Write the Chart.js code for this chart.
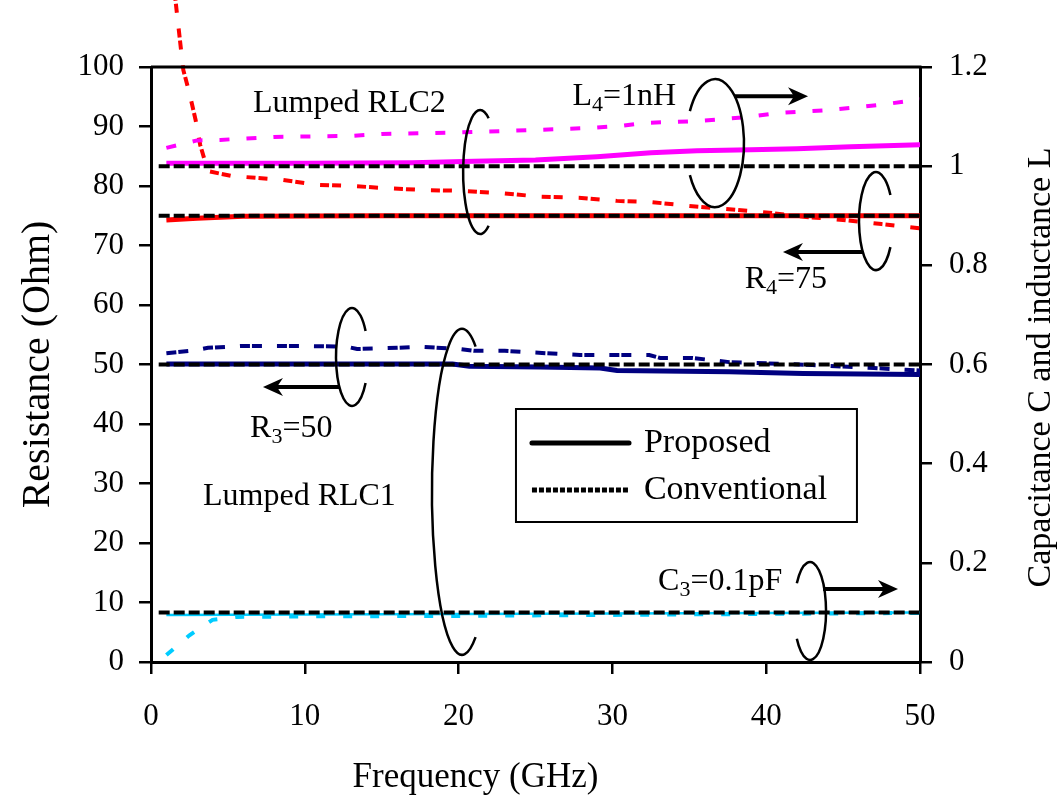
<!DOCTYPE html>
<html>
<head>
<meta charset="utf-8">
<title>Lumped RLC extraction vs frequency</title>
<script src="https://cdn.jsdelivr.net/npm/chart.js@4.4.1/dist/chart.umd.min.js"></script>
<style>
  html, body { margin: 0; padding: 0; background: #fff; }
  #wrap { width: 1062px; height: 799px; }
</style>
</head>
<body>
<div id="wrap"><canvas id="chart" width="1062" height="799"></canvas></div>
<script>
// ---- values ----
// nominal (ideal) element values, drawn as black dashed lines
const nominalFreq = [0.5, 50];
const nominalL4 = [1.0, 1.0];     // nH (right axis)
const nominalR4 = [75, 75];       // Ohm
const nominalR3 = [50, 50];       // Ohm
const nominalC3 = [0.1, 0.1];     // pF (right axis)

// L4 (magenta, right axis)
const l4PropFreq = [1, 10, 17, 21, 25, 29, 32.5, 35.5, 39, 42, 45.5, 50];
const l4PropVal  = [1.006, 1.006, 1.007, 1.010, 1.0125, 1.019, 1.027, 1.031, 1.033, 1.035, 1.039, 1.043];
const l4ConvFreq = [1, 3, 4.5, 8, 13, 15, 20, 25, 28.5, 30.5, 32, 35.5, 38.8, 40.7, 44, 46, 48, 50];
const l4ConvVal  = [1.037, 1.052, 1.053, 1.059, 1.061, 1.065, 1.068, 1.073, 1.077, 1.081, 1.087, 1.091, 1.099, 1.107, 1.113, 1.119, 1.126, 1.135];

// R4 (red, left axis)
const r4PropFreq = [1, 3, 6, 15, 25, 35, 45, 50];
const r4PropVal  = [74.3, 74.6, 74.9, 75.0, 75.0, 75.0, 75.0, 75.0];
const r4ConvFreq = [1, 1.7, 2.1, 2.5, 2.9, 3.2, 3.7, 5.2, 8.6, 10.8, 13.1, 15.5, 17.9, 20.1, 22.8, 25.3, 28, 30.3, 32.5, 35.2, 37.6, 40.2, 42.6, 45, 47.5, 50];
const r4ConvVal  = [125, 108.7, 99.5, 95.6, 91.1, 86.9, 82.5, 81.7, 81.0, 80.2, 80.0, 79.6, 79.3, 79.2, 78.8, 78.2, 78.0, 77.5, 77.3, 76.6, 76.1, 75.5, 74.8, 74.3, 73.6, 72.9];

// R3 (navy, left axis)
const r3PropFreq = [1, 10, 19.6, 20.7, 25.3, 29.2, 30.3, 37.6, 42.4, 50];
const r3PropVal  = [50.1, 50.1, 50.1, 49.7, 49.6, 49.4, 49.0, 48.8, 48.5, 48.3];
const r3ConvFreq = [1, 2.9, 3.7, 5.8, 8, 10, 12.7, 13.4, 16, 17.5, 20.1, 21, 23, 25.7, 27.9, 30.5, 32.4, 33.1, 35.2, 37.6, 40, 43, 47, 50];
const r3ConvVal  = [51.9, 52.4, 52.8, 53.1, 53.1, 53.1, 53.0, 52.6, 52.8, 53.0, 52.6, 52.3, 52.3, 51.9, 51.6, 51.6, 51.6, 51.1, 51.1, 50.4, 50.2, 49.9, 49.4, 49.0];

// C3 (sky blue, right axis)
const c3PropFreq = [1, 10, 20, 30, 40, 50];
const c3PropVal  = [0.095, 0.096, 0.097, 0.098, 0.099, 0.100];
const c3ConvFreq = [1, 2.5, 4, 5.6, 10, 20, 30, 40, 50];
const c3ConvVal  = [0.014, 0.054, 0.085, 0.091, 0.092, 0.093, 0.095, 0.097, 0.099];

const freqTicks = [0, 10, 20, 30, 40, 50];

const FONT = "'Liberation Serif', 'Times New Roman', serif";
Chart.defaults.font.family = FONT;
Chart.defaults.color = '#000';

function pts(xs, ys) {
    return xs.map((x, i) => ({ x: x, y: ys[i] }));
}

function line(label, xs, ys, color, width, dash, axis) {
    return {
        label: label,
        data: pts(xs, ys),
        borderColor: color,
        borderWidth: width,
        borderDash: dash || [],
        pointRadius: 0,
        fill: false,
        tension: 0,
        yAxisID: axis || 'y'
    };
}

const BLACK_DASH = [11, 4];

const datasets = [
    // black nominal lines on top
    line('L4 nominal', nominalFreq, nominalL4, '#000', 4, BLACK_DASH, 'y2'),
    line('R4 nominal', nominalFreq, nominalR4, '#000', 4, BLACK_DASH),
    line('R3 nominal', nominalFreq, nominalR3, '#000', 4, BLACK_DASH),
    line('C3 nominal', nominalFreq, nominalC3, '#000', 4, BLACK_DASH, 'y2'),
    line('L4 proposed', l4PropFreq, l4PropVal, '#ff00ff', 5, null, 'y2'),
    line('L4 conventional', l4ConvFreq, l4ConvVal, '#ff00ff', 4, [10, 17], 'y2'),
    line('R4 proposed', r4PropFreq, r4PropVal, '#ff0000', 5),
    Object.assign(line('R4 conventional', r4ConvFreq, r4ConvVal, '#ff0000', 4, [9, 3, 9, 16]), { clip: false }),
    line('R3 proposed', r3PropFreq, r3PropVal, '#000080', 5),
    line('R3 conventional', r3ConvFreq, r3ConvVal, '#000080', 4, [10, 2, 10, 15]),
    line('C3 proposed', c3PropFreq, c3PropVal, '#00ccff', 2.5, null, 'y2'),
    line('C3 conventional', c3ConvFreq, c3ConvVal, '#00ccff', 4, [9, 18], 'y2')
];

// ---- annotations (data units for positions) ----
const ellipses = [
    { x: 21.4, y: 82.35, rx: 17, ry: 62, open: 'right', gap: Math.PI / 3 },
    { x: 36.67, y: 87.2, rx: 29, ry: 64, open: 'left', gap: Math.PI / 6 },
    { x: 47.14, y: 74.1, rx: 17, ry: 49, open: 'right', gap: 0.56 },
    { x: 13.07, y: 51.26, rx: 16, ry: 49, open: 'right', gap: 0.56 },
    { x: 20.22, y: 28.6, rx: 30, ry: 163, open: 'right', gap: 1.1 },
    { x: 42.85, y: 8.57, rx: 16, ry: 49, open: 'left', gap: 0.6 }
];
const arrows = [
    { x1: 37.97, x2: 42.72, y: 95.1 },
    { x1: 46.23, x2: 41.09, y: 68.9 },
    { x1: 12.29, x2: 7.28, y: 46.2 },
    { x1: 43.7, x2: 48.57, y: 12.27 }
];
const labels = [
    { x: 6.63, y: 92.4, parts: [['Lumped RLC2']] },
    { x: 3.38, y: 26.4, parts: [['Lumped RLC1']] },
    { x: 27.4, y: 93.6, parts: [['L'], ['4', 1], ['=1nH']] },
    { x: 38.6, y: 62.9, parts: [['R'], ['4', 1], ['=75']] },
    { x: 6.44, y: 37.8, parts: [['R'], ['3', 1], ['=50']] },
    { x: 32.97, y: 12.1, parts: [['C'], ['3', 1], ['=0.1pF']] }
];

function drawParts(ctx, x, y, parts) {
    let cx = x;
    parts.forEach(p => {
        const sub = p[1];
        ctx.font = (sub ? '22px ' : '32px ') + FONT;
        ctx.fillText(p[0], cx, sub ? y + 6 : y);
        cx += ctx.measureText(p[0]).width;
    });
}

const decorPlugin = {
    id: 'decor',
    afterDatasetsDraw(chart) {
        const ctx = chart.ctx;
        const xs = chart.scales.x, ys = chart.scales.y;
        const area = chart.chartArea;
        ctx.save();
        ctx.strokeStyle = '#000';
        ctx.fillStyle = '#000';

        // top border of the plot box
        ctx.lineWidth = 3;
        ctx.beginPath();
        ctx.moveTo(area.left, area.top);
        ctx.lineTo(area.right + 1.5, area.top);
        ctx.stroke();

        // open ellipses
        ctx.lineWidth = 2.5;
        ellipses.forEach(e => {
            const cx = xs.getPixelForValue(e.x), cy = ys.getPixelForValue(e.y);
            ctx.beginPath();
            if (e.open === 'right') ctx.ellipse(cx, cy, e.rx, e.ry, 0, e.gap, 2 * Math.PI - e.gap);
            else ctx.ellipse(cx, cy, e.rx, e.ry, 0, Math.PI + e.gap, 3 * Math.PI - e.gap);
            ctx.stroke();
        });

        // arrows
        arrows.forEach(a => {
            const x1 = xs.getPixelForValue(a.x1), x2 = xs.getPixelForValue(a.x2);
            const y = ys.getPixelForValue(a.y);
            const dir = Math.sign(x2 - x1);
            ctx.lineWidth = 4;
            ctx.beginPath();
            ctx.moveTo(x1, y);
            ctx.lineTo(x2 - dir * 10, y);
            ctx.stroke();
            ctx.beginPath();
            ctx.moveTo(x2, y);
            ctx.lineTo(x2 - dir * 20, y - 9);
            ctx.lineTo(x2 - dir * 14, y);
            ctx.lineTo(x2 - dir * 20, y + 9);
            ctx.closePath();
            ctx.fill();
        });

        // labels
        ctx.textAlign = 'left';
        ctx.textBaseline = 'alphabetic';
        labels.forEach(l => {
            drawParts(ctx, xs.getPixelForValue(l.x), ys.getPixelForValue(l.y), l.parts);
        });

        // legend box
        const lx1 = xs.getPixelForValue(23.73), lx2 = xs.getPixelForValue(45.9);
        const ly1 = ys.getPixelForValue(42.52), ly2 = ys.getPixelForValue(23.53);
        ctx.fillStyle = '#fff';
        ctx.fillRect(lx1, ly1, lx2 - lx1, ly2 - ly1);
        ctx.fillStyle = '#000';
        ctx.lineWidth = 2;
        ctx.strokeRect(lx1, ly1, lx2 - lx1, ly2 - ly1);
        const sx1 = xs.getPixelForValue(24.77), sx2 = xs.getPixelForValue(31.08);
        const tx = xs.getPixelForValue(32.05);
        const row1 = ys.getPixelForValue(36.8), row2 = ys.getPixelForValue(28.9);
        ctx.lineWidth = 5;
        ctx.lineCap = 'round';
        ctx.beginPath();
        ctx.moveTo(sx1, row1);
        ctx.lineTo(sx2, row1);
        ctx.stroke();
        ctx.lineCap = 'butt';
        ctx.setLineDash([5, 2]);
        ctx.beginPath();
        ctx.moveTo(sx1, row2);
        ctx.lineTo(sx2, row2);
        ctx.stroke();
        ctx.setLineDash([]);
        ctx.font = '34px ' + FONT;
        ctx.textBaseline = 'middle';
        ctx.fillText('Proposed', tx, row1);
        ctx.fillText('Conventional', tx, row2);

        // x axis title and right axis title
        ctx.textAlign = 'center';
        ctx.font = '35px ' + FONT;
        ctx.textBaseline = 'alphabetic';
        ctx.fillText('Frequency (GHz)', xs.getPixelForValue(21.1), 787);
        ctx.save();
        ctx.translate(1041, (area.top + area.bottom) / 2 + 3);
        ctx.rotate(-Math.PI / 2);
        ctx.font = '34px ' + FONT;
        ctx.textBaseline = 'middle';
        ctx.fillText('Capacitance C and inductance L', 0, 0);
        ctx.restore();

        ctx.restore();
    }
};

const axisStyle = {
    grid: { drawOnChartArea: false, drawTicks: true, tickLength: 12, color: '#000', lineWidth: 2.5 },
    border: { display: true, color: '#000', width: 3 }
};

new Chart(document.getElementById('chart'), {
    type: 'line',
    data: { datasets: datasets },
    options: {
        responsive: false,
        devicePixelRatio: 1,
        animation: false,
        layout: { padding: { top: 67, left: 0, right: 0, bottom: 0 } },
        plugins: { legend: { display: false }, tooltip: { enabled: false } },
        scales: {
            x: Object.assign({
                type: 'linear',
                min: 0, max: 50,
                afterBuildTicks: s => { s.ticks = freqTicks.map(v => ({ value: v })); },
                afterFit: s => { s.height = 137; },
                ticks: { font: { size: 31 }, padding: 24, maxRotation: 0 }
            }, axisStyle),
            y: Object.assign({
                position: 'left',
                min: 0, max: 100,
                afterFit: s => { s.width = 151; },
                ticks: { stepSize: 10, font: { size: 31 }, padding: 15 },
                title: { display: true, text: 'Resistance (Ohm)', font: { size: 40 }, padding: { top: 14 } }
            }, axisStyle),
            y2: Object.assign({
                position: 'right',
                min: 0, max: 1.2,
                afterFit: s => { s.width = 142; },
                ticks: {
                    stepSize: 0.2, font: { size: 31 }, padding: 17,
                    callback: v => String(Number(v.toFixed(1)))
                }
            }, axisStyle)
        }
    },
    plugins: [decorPlugin]
});
</script>
</body>
</html>
